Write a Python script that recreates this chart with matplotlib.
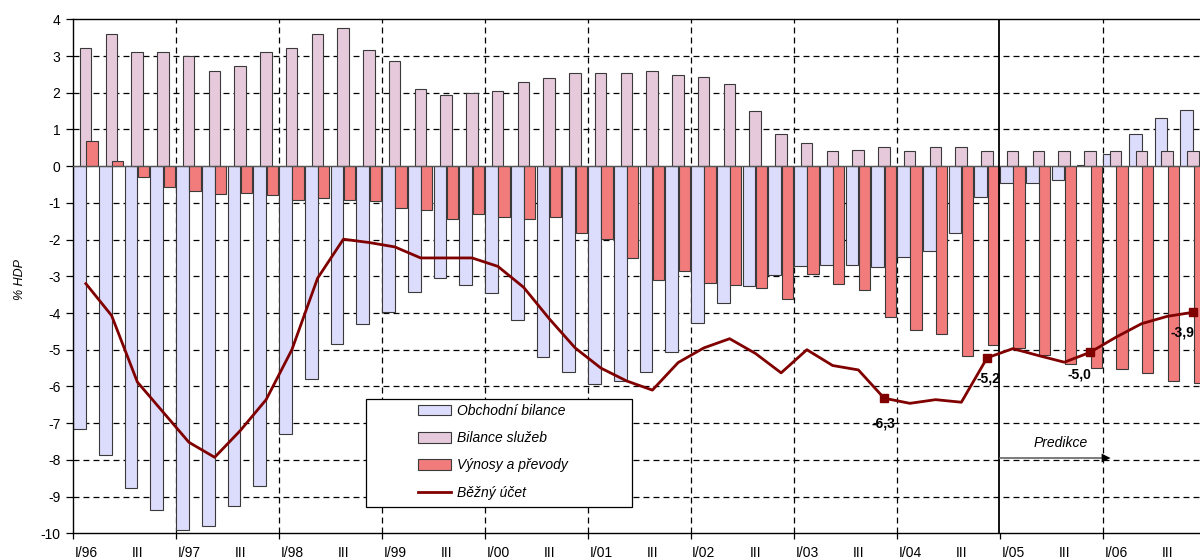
import numpy as np
import matplotlib.pyplot as plt
from matplotlib.patches import Patch, Rectangle
from matplotlib.lines import Line2D

plt.rcParams['font.family'] = ['Liberation Sans', 'DejaVu Sans']
plt.rcParams['lines.scale_dashes'] = False

# quarterly data 1996Q1 .. 2006Q4, % of GDP
years = ["96", "97", "98", "99", "00", "01", "02", "03", "04", "05", "06"]
trade = [-7.15, -7.88, -8.76, -9.37, -9.92, -9.80, -9.25, -8.71,
         -7.30, -5.81, -4.85, -4.30, -3.97, -3.42, -3.04, -3.25,
         -3.45, -4.20, -5.19, -5.62, -5.92, -5.85, -5.60, -5.05,
         -4.26, -3.74, -3.27, -2.96, -2.73, -2.70, -2.68, -2.76,
         -2.48, -2.30, -1.81, -0.84, -0.46, -0.47, -0.39, 0.02,
         0.34, 0.88, 1.32, 1.52]
services = [3.21, 3.61, 3.12, 3.12, 3.00, 2.58, 2.72, 3.12,
            3.21, 3.61, 3.75, 3.16, 2.87, 2.09, 1.94, 2.00,
            2.06, 2.30, 2.41, 2.53, 2.53, 2.55, 2.58, 2.49,
            2.43, 2.23, 1.49, 0.88, 0.63, 0.42, 0.45, 0.52,
            0.42, 0.52, 0.52, 0.42, 0.42, 0.42, 0.42, 0.40,
            0.40, 0.40, 0.40, 0.40]
income = [0.68, 0.15, -0.29, -0.58, -0.67, -0.75, -0.72, -0.78,
          -0.92, -0.87, -0.92, -0.95, -1.13, -1.19, -1.44, -1.29,
          -1.38, -1.44, -1.38, -1.81, -1.99, -2.50, -3.11, -2.85,
          -3.17, -3.23, -3.33, -3.61, -2.93, -3.20, -3.37, -4.10,
          -4.46, -4.57, -5.16, -4.86, -4.95, -5.13, -5.40, -5.49,
          -5.52, -5.63, -5.84, -5.91]
current = [-3.20, -4.07, -5.88, -6.70, -7.52, -7.93, -7.20, -6.36,
           -5.00, -3.05, -1.99, -2.08, -2.20, -2.50, -2.50, -2.50,
           -2.73, -3.30, -4.16, -4.95, -5.50, -5.85, -6.10, -5.35,
           -4.95, -4.70, -5.10, -5.63, -5.00, -5.43, -5.55, -6.32,
           -6.46, -6.36, -6.43, -5.22, -4.97, -5.16, -5.34, -5.07,
           -4.66, -4.29, -4.09, -3.98]
marked = {31: "-6,3", 35: "-5,2", 39: "-5,0", 43: "-3,9"}

n = len(trade)
q = np.arange(n)

c_trade = "#DCDCFC"
c_serv = "#E6CADB"
c_inc = "#F27C7C"
c_line = "#800000"
edge = "#3A3A3A"

fig = plt.figure(figsize=(12, 5.58), dpi=100)
ax = fig.add_axes([73 / 1200, 24.7 / 558, 44 * 25.75 / 1200, 514 / 558])
ax.set_xlim(0, 44)
ax.set_ylim(-10, 4)

# grid
dash = (0, (4.3, 2.9))
for y in range(-9, 4):
    if y != 0:
        ax.axhline(y, color="black", lw=0.9, ls=dash, zorder=0)
for x in range(4, 44, 4):
    if x != 36:
        ax.axvline(x, color="black", lw=0.9, ls=dash, zorder=0)
ax.axvline(35.95, color="black", lw=1.3, zorder=4)

ax.bar(q + 0.25, trade, width=0.5, color=c_trade, edgecolor=edge, lw=0.8, zorder=2)
ax.bar(q + 0.49, services, width=0.45, color=c_serv, edgecolor=edge, lw=0.8, zorder=2)
ax.bar(q + 0.74, income, width=0.44, color=c_inc, edgecolor=edge, lw=0.8, zorder=2)
ax.axhline(0, color="#555555", lw=1.0, zorder=3)

ax.plot(q + 0.5, current, color=c_line, lw=2, zorder=5)
mk = list(marked)
ax.plot(q[mk] + 0.5, np.array(current)[mk], "s", color=c_line, ms=6, zorder=6)
ax.text(31.46, -7.0, marked[31], ha="center", va="center", fontsize=10, fontweight="bold", zorder=7)
ax.text(35.53, -5.78, marked[35], ha="center", va="center", fontsize=10, fontweight="bold", zorder=7)
ax.text(39.1, -5.67, marked[39], ha="center", va="center", fontsize=10, fontweight="bold", zorder=7)
ax.text(43.1, -4.53, marked[43], ha="center", va="center", fontsize=10, fontweight="bold", zorder=7)

# prediction arrow
ax.plot([36.0, 40.0], [-7.95, -7.95], color="#666666", lw=1.2, zorder=6)
ax.annotate("", xy=(40.4, -7.95), xytext=(39.8, -7.95),
            arrowprops=dict(arrowstyle="-|>", color="black", mutation_scale=16, lw=0), zorder=6)
ax.text(38.35, -7.53, "Predikce", ha="center", va="center", fontsize=10, style="italic", zorder=6)

# axes styling
for s in ["left", "bottom", "top"]:
    ax.spines[s].set_linewidth(1.0)
    ax.spines[s].set_color("black")
ax.spines["right"].set_visible(False)
ax.set_yticks(range(-10, 5))
ax.set_yticklabels([str(v) for v in range(-10, 5)], fontsize=10)
ax.tick_params(axis="y", direction="out", length=5, width=0.9, pad=4)

labels = []
for y in years:
    labels += ["I/" + y, "III"]
ax.set_xticks(np.arange(0, 44, 2) + 0.5)
ax.set_xticklabels(labels, fontsize=10)
ax.tick_params(axis="x", length=0, pad=9)
ax.set_xticks(range(0, 45, 4), minor=True)
ax.tick_params(axis="x", which="minor", direction="out", length=4, width=0.9)

fig.text(20 / 1200, 1 - 280 / 558, "% HDP", rotation=90, ha="center", va="center",
         fontsize=9, style="italic")

# legend box
box = Rectangle((366 / 1200, 1 - 507 / 558), 266 / 1200, 108 / 558, transform=fig.transFigure,
                facecolor="white", edgecolor="black", lw=0.9, zorder=8)
fig.patches.append(box)
handles = [Patch(facecolor=c_trade, edgecolor=edge, lw=0.8),
           Patch(facecolor=c_serv, edgecolor=edge, lw=0.8),
           Patch(facecolor=c_inc, edgecolor=edge, lw=0.8),
           Line2D([0], [0], color=c_line, lw=2)]
names = ["Obchodní bilance", "Bilance služeb", "Výnosy a převody", "Běžný účet"]
leg = fig.legend(handles, names, loc="upper left", bbox_to_anchor=(418 / 1200, 1 - 404 / 558),
                 frameon=False, prop={"style": "italic", "size": 10},
                 handlelength=2.4, handleheight=0.8, handletextpad=0.4, labelspacing=0.95,
                 borderpad=0, borderaxespad=0)
leg.set_zorder(9)

fig.savefig("out.png", dpi=100)
